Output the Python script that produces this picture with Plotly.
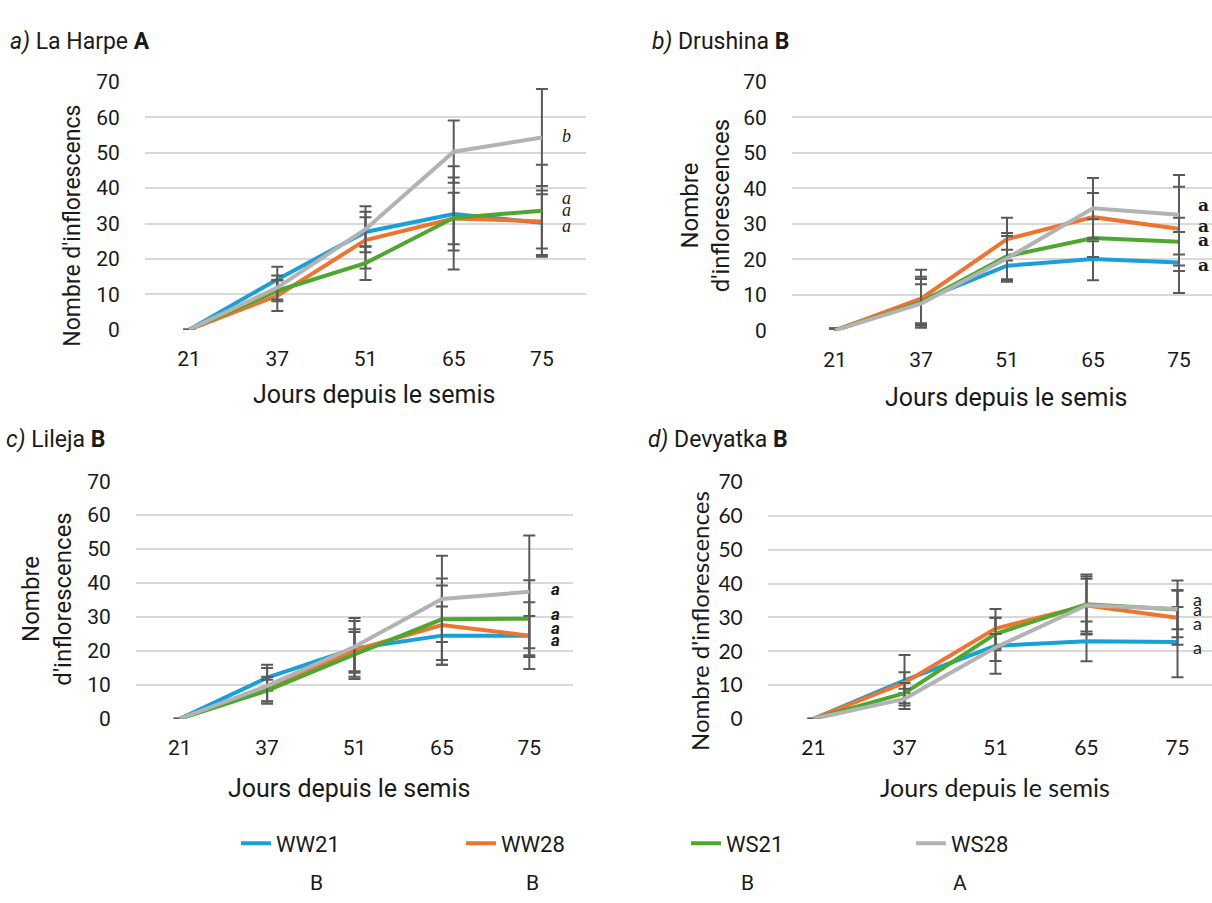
import plotly.graph_objects as go

W, H = 1212, 903

days = ["21", "37", "51", "65", "75"]
series = ["WW21", "WW28", "WS21", "WS28"]
colors = {"WW21": "#17A0DA", "WW28": "#EE7430", "WS21": "#4EA72E", "WS28": "#B3B3B3"}

# Panel a) La Harpe
a_WW21 = [0, 14.2, 27.6, 32.7, 30.2]
a_WW28 = [0, 9.6, 25.3, 31.4, 30.6]
a_WS21 = [0, 11.0, 18.8, 31.6, 33.6]
a_WS28 = [0, 11.9, 28.4, 50.3, 54.3]
a_err_WW21 = [0, 3.6, 4.2, 10.3, 9.1]
a_err_WW28 = [0, 4.3, 8.0, 7.3, 7.7]
a_err_WS21 = [0, 3.0, 4.8, 14.6, 13.0]
a_err_WS28 = [0, 3.4, 6.5, 8.8, 13.7]

# Panel b) Drushina
b_WW21 = [0, 8.4, 18.2, 20.1, 19.1]
b_WW28 = [0, 8.9, 25.7, 31.9, 28.6]
b_WS21 = [0, 7.9, 20.9, 26.0, 25.0]
b_WS28 = [0, 7.5, 20.3, 34.4, 32.6]
b_err_WW21 = [0.5, 6.7, 4.5, 6.0, 8.6]
b_err_WW28 = [0.5, 8.2, 6.0, 6.8, 11.9]
b_err_WS21 = [0.5, 6.6, 6.5, 5.3, 6.7]
b_err_WS28 = [0.5, 5.5, 6.3, 8.5, 11.2]

# Panel c) Lileja
c_WW21 = [0, 12.1, 20.7, 24.5, 24.5]
c_WW28 = [0, 8.8, 20.2, 27.6, 24.5]
c_WS21 = [0, 8.3, 19.0, 29.3, 29.5]
c_WS28 = [0, 9.7, 21.2, 35.3, 37.4]
c_err_WW21 = [0, 3.8, 9.0, 8.6, 9.8]
c_err_WW28 = [0, 3.6, 6.2, 11.7, 5.8]
c_err_WS21 = [0, 3.2, 6.6, 12.0, 11.3]
c_err_WS28 = [0, 5.3, 7.6, 12.7, 16.6]

# Panel d) Devyatka
d_WW21 = [0, 11.4, 21.6, 22.9, 22.7]
d_WW28 = [0, 10.7, 26.7, 33.5, 29.9]
d_WS21 = [0, 7.6, 25.1, 33.9, 32.3]
d_WS28 = [0, 5.9, 21.1, 33.6, 32.5]
d_err_WW21 = [0, 7.5, 8.3, 5.9, 10.4]
d_err_WW28 = [0, 3.1, 5.8, 8.6, 8.0]
d_err_WS21 = [0, 3.0, 4.8, 8.8, 5.8]
d_err_WS28 = [0, 3.0, 4.0, 7.8, 8.4]

yticks = [0, 10, 20, 30, 40, 50, 60, 70]

# significance letters at the last sampling date
a_letters = ["b", "a", "a", "a"]
a_letter_y = [54.6, 37.1, 33.8, 29.4]
b_letters = ["a", "a", "a", "a"]
b_letter_y = [35.2, 29.5, 25.4, 18.5]
c_letters = ["a", "a", "a", "a"]
c_letter_y = [38.2, 30.8, 26.8, 23.1]
d_letters = ["a", "a", "a", "a"]
d_letter_y = [35.5, 32.4, 28.4, 21.2]
legend_groups = ["B", "B", "B", "A"]

panels = [
    dict(vals=[a_WW21, a_WW28, a_WS21, a_WS28],
         errs=[a_err_WW21, a_err_WW28, a_err_WS21, a_err_WS28],
         px=(145, 586), py=(70, 325), xr=(-0.5, 4.5), font="Roboto"),
    dict(vals=[b_WW21, b_WW28, b_WS21, b_WS28],
         errs=[b_err_WW21, b_err_WW28, b_err_WS21, b_err_WS28],
         px=(792, 1212), py=(70, 325.7), xr=(-0.5, -0.5 + 420 / 86.0), font="Roboto"),
    dict(vals=[c_WW21, c_WW28, c_WS21, c_WS28],
         errs=[c_err_WW21, c_err_WW28, c_err_WS21, c_err_WS28],
         px=(136, 573), py=(481, 725.7), xr=(-0.5, 4.5), font="Roboto"),
    dict(vals=[d_WW21, d_WW28, d_WS21, d_WS28],
         errs=[d_err_WW21, d_err_WW28, d_err_WS21, d_err_WS28],
         px=(768, 1212), py=(482, 725.7), xr=(-0.5, -0.5 + 444 / 91.0), font="Lato"),
]

fig = go.Figure()
layout = {}
for i, p in enumerate(panels):
    n = i + 1
    xa = "x" if n == 1 else f"x{n}"
    ya = "y" if n == 1 else f"y{n}"
    for s, v, e in zip(series, p["vals"], p["errs"]):
        fig.add_trace(go.Scatter(
            x=days, y=v, xaxis=xa, yaxis=ya, name=s, mode="lines",
            line=dict(color=colors[s], width=4),
            error_y=dict(type="data", array=e, visible=True, color="#5A5A5A",
                         thickness=2, width=6),
            showlegend=(n == 1), legendgroup=s, cliponaxis=False,
            hoverinfo="skip"))
    x0, x1 = p["px"]
    yt, yb = p["py"]
    layout["xaxis" if n == 1 else f"xaxis{n}"] = dict(
        domain=[x0 / W, min(x1 / W, 1.0)], anchor=ya, type="category",
        range=list(p["xr"]), showgrid=False, zeroline=False, showline=False,
        ticks="outside", ticklen=10, tickcolor="rgba(0,0,0,0)",
        tickfont=dict(family=p["font"], size=21, color="#1a1a1a"))
    layout["yaxis" if n == 1 else f"yaxis{n}"] = dict(
        domain=[1 - yb / H, 1 - yt / H], anchor=xa, range=[0, 70],
        tickvals=yticks, showgrid=True, gridcolor="#D9D9D9", gridwidth=1.6,
        zeroline=False, showline=False,
        ticks="outside", ticklen=20, tickcolor="rgba(0,0,0,0)",
        tickfont=dict(family=p["font"], size=21, color="#1a1a1a"))

ann = []
def A(text, x, y, size=22, family="Roboto", xanchor="center", angle=0, color="#1a1a1a"):
    ann.append(dict(text=text, x=x / W, y=1 - y / H, xref="paper", yref="paper",
                    showarrow=False, xanchor=xanchor, yanchor="middle", textangle=angle,
                    font=dict(family=family, size=size, color=color)))

# panel titles
A("<i>a)</i> La Harpe <b>A</b>", 8, 28, 23, xanchor="left")
A("<i>b)</i> Drushina <b>B</b>", 650, 28, 23, xanchor="left")
A("<i>c)</i> Lileja <b>B</b>", 4, 438, 23, xanchor="left")
A("<i>d)</i> Devyatka <b>B</b>", 646, 438, 23, xanchor="left")

# x axis titles
A("Jours depuis le semis", 374, 392, 25)
A("Jours depuis le semis", 1006, 395, 25)
A("Jours depuis le semis", 349, 797, 25)
A("Jours depuis le semis", 995, 796, 25, family="Lato")

# y axis titles
A("Nombre d'inflorescencs", 73, 218, 23, angle=-90)
A("Nombre<br>d'inflorescences", 705, 198, 24, angle=-90)
A("Nombre<br>d'inflorescences", 47, 603, 24, angle=-90)
A("Nombre d'inflorescences", 699, 625, 24, family="Lato", angle=-90)

# significance letters next to the last point
letter_sets = [
    (a_letters, a_letter_y, "y", 566, dict(family="Liberation Serif", size=18), "<i>{}</i>"),
    (b_letters, b_letter_y, "y2", 1203, dict(family="DejaVu Serif", size=17), "<b>{}</b>"),
    (c_letters, c_letter_y, "y3", 555, dict(family="Roboto", size=17), "<b><i>{}</i></b>"),
    (d_letters, d_letter_y, "y4", 1197, dict(family="Lato", size=18), "{}"),
]
for letters, ys, yr, xpix, f, fmt in letter_sets:
    for L, yv in zip(letters, ys):
        ann.append(dict(text=fmt.format(L), x=xpix / W, y=yv, xref="paper", yref=yr,
                        showarrow=False, xanchor="center", yanchor="middle",
                        font=dict(color="#1a1a1a", **f)))

# group letters under the legend
for g, xp in zip(legend_groups, [317, 532, 747, 960]):
    A(g, xp, 895, 21)

fig.update_layout(
    width=W, height=H, margin=dict(l=0, r=0, t=0, b=0, pad=0),
    paper_bgcolor="white", plot_bgcolor="white",
    font=dict(family="Roboto", color="#1a1a1a"),
    annotations=ann,
    legend=dict(orientation="h", x=236 / W, y=1 - 854 / H, xanchor="left", yanchor="middle",
                entrywidth=180, entrywidthmode="pixels",
                font=dict(family="Roboto", size=22, color="#1a1a1a"),
                bgcolor="rgba(0,0,0,0)", tracegroupgap=0, traceorder="normal"),
    **layout,
)

fig.write_html("out.html")
